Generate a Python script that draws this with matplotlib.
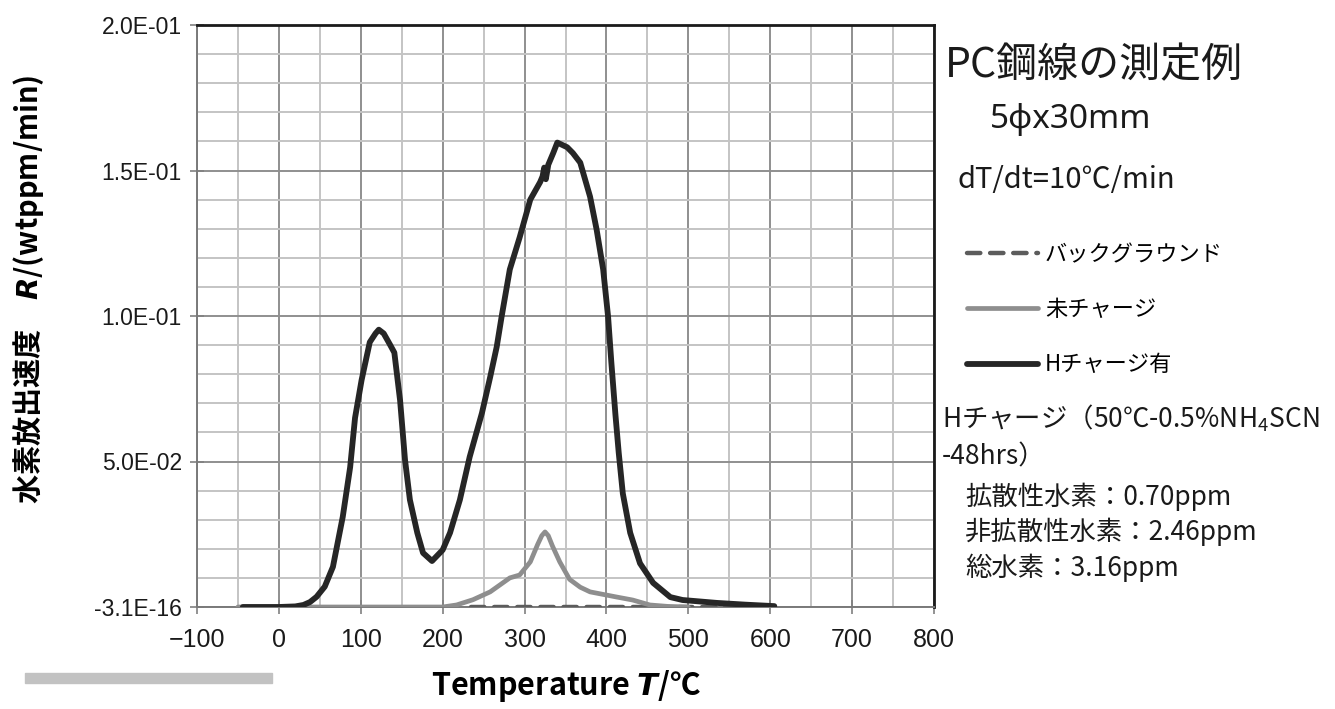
import matplotlib
matplotlib.use("Agg")
import matplotlib.pyplot as plt
from matplotlib.patches import Rectangle
from matplotlib.ticker import MultipleLocator

plt.rcParams['font.family'] = ['Noto Sans CJK JP', 'DejaVu Sans']
plt.rcParams['mathtext.fontset'] = 'custom'
plt.rcParams['mathtext.rm'] = 'Noto Sans CJK JP'
plt.rcParams['mathtext.it'] = 'DejaVu Sans:italic:bold'
plt.rcParams['mathtext.bf'] = 'Noto Sans CJK JP:bold'

# Hチャージ有 (black)
t_h = [-44, 0, 20, 30, 38, 46, 56, 66, 78, 87, 93, 101, 111, 118, 122, 128, 136, 141,
       148, 154, 160, 169, 176, 187, 200, 209, 221, 233, 248, 258, 266, 272, 282, 294,
       307, 319, 322, 324, 326, 329, 335, 340, 352, 359, 368, 380, 388, 396, 402, 406,
       411, 415, 420, 429, 441, 457, 478, 493, 535, 570, 605]
r_h = [0, 0, 0.0002, 0.0007, 0.0017, 0.0035, 0.007, 0.0138, 0.031, 0.048, 0.065, 0.078,
       0.091, 0.094, 0.0953, 0.094, 0.090, 0.0874, 0.071, 0.0506, 0.0368, 0.0255, 0.0186,
       0.0158, 0.0196, 0.0255, 0.0368, 0.0516, 0.0667, 0.079, 0.0894, 0.0998, 0.116,
       0.127, 0.140, 0.146, 0.148, 0.151, 0.147, 0.152, 0.156, 0.1596, 0.158, 0.156,
       0.1527, 0.141, 0.1297, 0.116, 0.0998, 0.084, 0.066, 0.053, 0.039, 0.0255, 0.015,
       0.0083, 0.0034, 0.0024, 0.0014, 0.0008, 0.0003]

# 未チャージ (gray)
t_u = [-50, 100, 200, 217, 237, 258, 274, 282, 294, 307, 316, 321, 325, 329, 334, 343,
       355, 368, 380, 413, 432, 453, 475, 500]
r_u = [0, 0, 0, 0.0007, 0.0025, 0.0052, 0.0084, 0.010, 0.011, 0.0155, 0.0215, 0.0245,
       0.0258, 0.0245, 0.021, 0.0155, 0.0095, 0.0068, 0.0052, 0.0034, 0.0024, 0.0007,
       0.0002, 0]

# バックグラウンド (dashed)
t_bg = [235, 300, 400, 500, 600]
r_bg = [0, 0, 0, 0, 0]

x_ticks = [-100, 0, 100, 200, 300, 400, 500, 600, 700, 800]
x_labels = ['\u2212100', '0', '100', '200', '300', '400', '500', '600', '700', '800']
y_ticks = [0, 0.05, 0.10, 0.15, 0.20]
y_labels = ['-3.1E-16', '5.0E-02', '1.0E-01', '1.5E-01', '2.0E-01']

W, H = 1335, 709
fig = plt.figure(figsize=(W / 100, H / 100), dpi=100)
ax = fig.add_axes([197 / W, 1 - 607 / H, (934 - 197) / W, (607 - 25) / H])

ax.plot(t_bg, r_bg, color='#5c5c5c', lw=3.2, dashes=[3.0, 2.2], dash_capstyle='round',
        label='バックグラウンド', zorder=3)
ax.plot(t_u, r_u, color='#8e8e8e', lw=3.4, solid_capstyle='round', label='未チャージ', zorder=4)
ax.plot(t_h, r_h, color='#262626', lw=4.2, solid_capstyle='round', label='Hチャージ有', zorder=5)

ax.set_xlim(-100, 800)
ax.set_ylim(0, 0.2)
ax.set_xticks(x_ticks)
ax.set_xticklabels(x_labels)
ax.set_yticks(y_ticks)
ax.set_yticklabels(y_labels)
ax.xaxis.set_minor_locator(MultipleLocator(50))
ax.yaxis.set_minor_locator(MultipleLocator(0.01))
ax.grid(which='major', color='#8f8f8f', lw=1.4, zorder=0)
ax.grid(which='minor', color='#c4c4c4', lw=1.4, zorder=0)
ax.set_axisbelow(True)
ax.tick_params(which='major', direction='inout', length=10, width=1.2, color='#808080',
               labelsize=18, labelfontfamily='Liberation Sans', labelcolor='#1a1a1a')
ax.tick_params(axis='x', pad=10)
ax.tick_params(axis='y', labelsize=16.5, pad=6)
ax.tick_params(which='minor', length=0)
for side in ['left', 'bottom']:
    ax.spines[side].set_color('#7a7a7a')
    ax.spines[side].set_linewidth(1.4)
for side in ['top', 'right']:
    ax.spines[side].set_color('#1a1a1a')
    ax.spines[side].set_linewidth(2)

ax.set_xlabel('Temperature $T$/℃', fontsize=22, fontweight='bold', labelpad=12)
ax.set_ylabel('水素放出速度\u3000$R$/(wtppm/min)', fontsize=21, fontweight='bold')
ax.yaxis.set_label_coords(-0.205, 0.546)

leg = ax.legend(loc='upper left', bbox_to_anchor=(967 / W, 1 - 243 / H),
                bbox_transform=fig.transFigure, frameon=False, fontsize=16,
                handlelength=3.2, handletextpad=0.3, labelspacing=1.45,
                borderpad=0, borderaxespad=0)

fig.text(945 / W, 1 - 66 / H, 'PC鋼線の測定例', fontsize=29.5, va='center', color='#1a1a1a')
fig.text(990 / W, 1 - 119 / H, '5φx30mm', fontsize=24, va='center', color='#1a1a1a',
         family=['Noto Sans', 'DejaVu Sans'])
fig.text(958 / W, 1 - 180 / H, 'dT/dt=10℃/min', fontsize=21, va='center', color='#1a1a1a')

note_lines = ['Hチャージ（50℃-0.5%NH$_4$SCN', '-48hrs）']
fig.text(942 / W, 1 - 418 / H, note_lines[0], fontsize=19, va='center', color='#1a1a1a')
fig.text(942 / W, 1 - 457 / H, note_lines[1], fontsize=19, va='center', color='#1a1a1a')
fig.text(965 / W, 1 - 497 / H, '拡散性水素：0.70ppm', fontsize=19, va='center', color='#1a1a1a')
fig.text(965 / W, 1 - 532 / H, '非拡散性水素：2.46ppm', fontsize=19, va='center', color='#1a1a1a')
fig.text(965 / W, 1 - 568 / H, '総水素：3.16ppm', fontsize=19, va='center', color='#1a1a1a')

fig.add_artist(Rectangle((25 / W, 1 - 683 / H), 247 / W, 10 / H,
                         transform=fig.transFigure, color='#c2c2c2'))

fig.savefig('out.png', dpi=100)
